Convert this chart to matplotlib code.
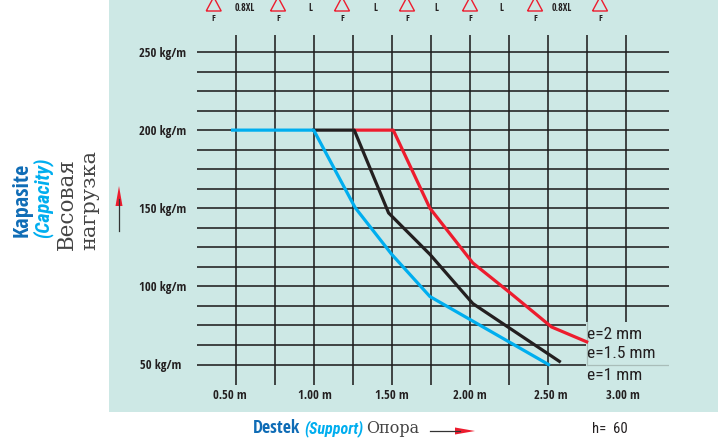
#!/usr/bin/env python3
"""Capacity vs support distance chart (h=60)."""
import matplotlib
matplotlib.use('Agg')
import matplotlib.pyplot as plt
from matplotlib.patches import Polygon, Rectangle

W, H = 725, 439
NARROW = 'Open Sans Condensed'
ROBOTO = 'Roboto Condensed'
PANEL = '#cde8e5'
GRID = '#1f1f1f'
PALE = '#a9bdb9'
RED = '#ed1c2e'
BLUE = '#00aeef'
BLACK = '#231f20'
DARKBLUE = '#0f6cb6'
SERIF_GREY = '#444444'

# series
x_e1 = [0.48, 1.00, 1.265, 1.50, 1.745, 2.505]
y_e1 = [200, 200, 150.5, 120.5, 93.5, 50]
x_e15 = [1.00, 1.26, 1.48, 1.745, 2.02, 2.575]
y_e15 = [200, 200, 147, 120.5, 89, 52]
x_e2 = [1.26, 1.51, 1.745, 2.02, 2.245, 2.525, 2.75]
y_e2 = [200, 200, 150, 115, 97, 74, 64.5]

x_labels = ['0.50 m', '1.00 m', '1.50 m', '2.00 m', '2.50 m', '3.00 m']
x_label_px = [230, 315, 392, 470, 551, 623]
x_grid = [0.50, 0.75, 1.00, 1.25, 1.50, 1.75, 2.00, 2.25, 2.50, 2.75, 3.00]
y_ticks = [50, 100, 150, 200, 250]
y_labels = ['50 kg/m', '100 kg/m', '150 kg/m', '200 kg/m', '250 kg/m']
y_grid = [50 + 12.5 * i for i in range(17)]

span_px = [245, 310, 375, 436, 501, 562]
span_labels = ['0.8XL', 'L', 'L', 'L', 'L', '0.8XL']
support_px = [213.7, 278, 342, 407, 470, 535, 600]

fig = plt.figure(figsize=(W / 100, H / 100), dpi=100, facecolor='white')


def pixel_axes(zorder):
    a = fig.add_axes([0, 0, 1, 1], zorder=zorder)
    a.set_xlim(0, W)
    a.set_ylim(H, 0)
    a.axis('off')
    return a


# panel underneath, texts on top, both in picture pixels
bg = pixel_axes(0)
fg = pixel_axes(2)
bg.add_patch(Rectangle((109, 0), 609, 413, facecolor=PANEL, edgecolor='none'))

# main axes: 0.50 m at 235.7 px, 156 px per m; 50 kg/m at 365.5 px, 1.5625 px per kg
left, right, top, bottom = 197, 669, 36, 386
ax = fig.add_axes([left / W, 1 - bottom / H, (right - left) / W, (bottom - top) / H], zorder=1)
ax.patch.set_alpha(0)
ax.set_xlim(0.5 + (left - 235.7) / 156, 0.5 + (right - 235.7) / 156)
ax.set_ylim(50 - (bottom - 365.5) / 1.5625, 50 + (365.5 - top) / 1.5625)
for s in ax.spines.values():
    s.set_visible(False)
ax.set_xticks([])
ax.set_yticks([])
ax.vlines(x_grid, *ax.get_ylim(), color=GRID, linewidth=1.15, zorder=1)
ax.hlines(y_grid, *ax.get_xlim(), color=GRID, linewidth=1.15, zorder=1)

# the e= labels sit on a patch that hides the corner of the grid
patch_x = 2.745
patch_top = 77
ax.add_patch(Rectangle((patch_x, ax.get_ylim()[0]), ax.get_xlim()[1] - patch_x, patch_top - ax.get_ylim()[0],
                       facecolor=PANEL, edgecolor='none', zorder=2))
ax.plot([2.75, 2.75], [50, patch_top], color=PALE, linewidth=0.9, zorder=3)
ax.plot([2.75, ax.get_xlim()[1]], [50, 50], color=PALE, linewidth=0.9, zorder=3)

ax.plot(x_e2, y_e2, color=RED, linewidth=2.3, zorder=4)
ax.plot(x_e15, y_e15, color=BLACK, linewidth=2.3, zorder=5)
ax.plot(x_e1, y_e1, color=BLUE, linewidth=2.3, zorder=6)

# tick labels
for lab, px in zip(x_labels, x_label_px):
    fg.text(px, 396, lab, family=NARROW, fontsize=9, fontweight='bold', color=BLACK, ha='center', va='center')
for lab, val in zip(y_labels, y_ticks):
    py = 365.5 - (val - 50) * 1.5625
    fg.text(186 if val > 50 else 181, py, lab, family=NARROW, fontsize=9, fontweight='bold', color=BLACK, ha='right', va='center')

# support triangles along the top
for px in support_px:
    tri = Polygon([[px - 7.5, 12], [px + 7.5, 12], [px, -2]], closed=True, facecolor='none',
                  edgecolor=RED, linewidth=1.0)
    bg.add_patch(tri)
    fg.text(px, 18.5, 'F', family=NARROW, fontsize=6.5, fontweight='bold', color=BLACK, ha='center', va='center')
for lab, px in zip(span_labels, span_px):
    fg.text(px, 8.5, lab, family=NARROW, fontsize=7, fontweight='bold', color=BLACK, ha='center', va='center')

# e= legend
fg.text(587, 335, 'e=2 mm', family=ROBOTO, fontsize=12.5, color=BLACK, ha='left', va='center')
fg.text(587, 354, 'e=1.5 mm', family=ROBOTO, fontsize=12.5, color=BLACK, ha='left', va='center')
fg.text(587, 376, 'e=1 mm', family=ROBOTO, fontsize=12.5, color=BLACK, ha='left', va='center')

# axis titles
fg.text(22, 237, 'Kapasite', family=NARROW, fontsize=16, fontweight='bold', color=DARKBLUE,
        rotation=90, ha='center', va='bottom')
fg.text(43, 238, '(Capacity)', family=ROBOTO, fontsize=14.5, fontweight='bold', style='italic', color=BLUE,
        rotation=90, ha='center', va='bottom')
fg.text(66.5, 250, 'Весовая', family='DejaVu Serif', fontsize=15.5, color=SERIF_GREY,
        rotation=90, ha='center', va='bottom')
fg.text(89.5, 250, 'нагрузка', family='DejaVu Serif', fontsize=15, color=SERIF_GREY,
        rotation=90, ha='center', va='bottom')
fg.text(253, 428, 'Destek', family=NARROW, fontsize=13, fontweight='bold', color=DARKBLUE, ha='left', va='center')
fg.text(304, 429, '(Support)', family=ROBOTO, fontsize=11.5, fontweight='bold', style='italic', color=BLUE, ha='left', va='center')
fg.text(366, 429, 'Опора', family='DejaVu Serif', fontsize=11.5, color=SERIF_GREY, ha='left', va='center')
fg.text(592, 429, 'h=  60', family=ROBOTO, fontsize=10.5, color=BLACK, ha='left', va='center')

# arrows
bg.plot([119, 119], [232, 200], color='#333333', linewidth=0.9)
bg.add_patch(Polygon([[115.5, 207], [122.5, 207], [119, 187]], closed=True, facecolor=RED, edgecolor='none'))
bg.plot([430, 460], [432, 432], color='#333333', linewidth=0.9)
bg.add_patch(Polygon([[455, 428.5], [455, 435.5], [475, 432]], closed=True, facecolor=RED, edgecolor='none'))

fig.savefig('out.png', dpi=100)
